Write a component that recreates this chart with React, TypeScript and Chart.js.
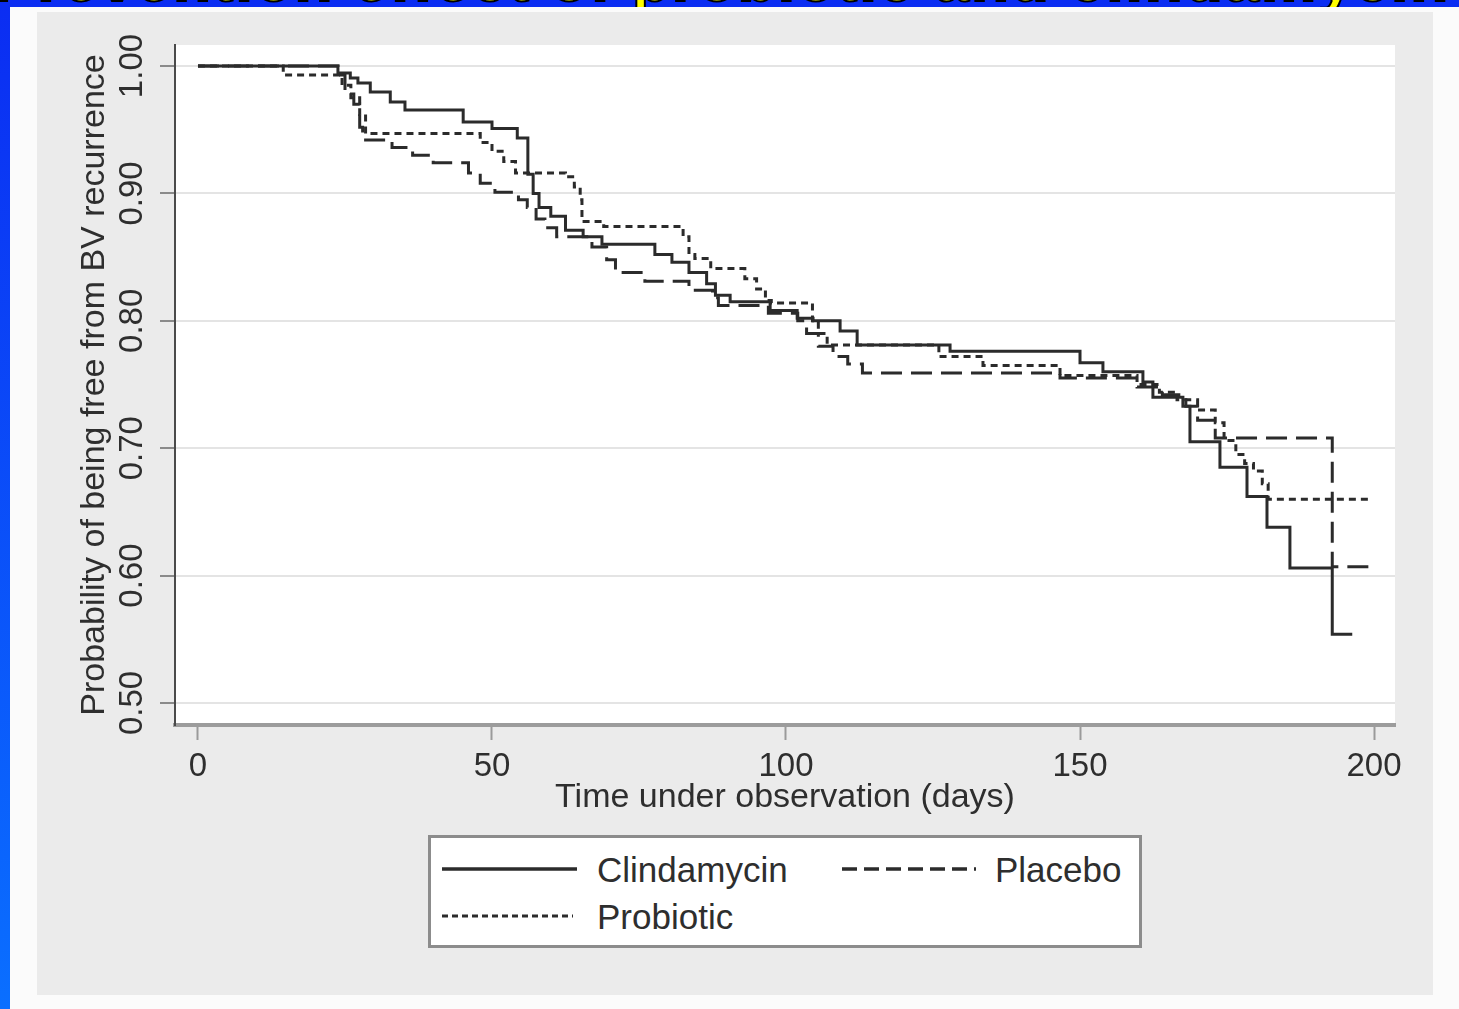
import React, { useEffect, useRef } from "react";
import { Chart, registerables } from "chart.js";

Chart.register(...registerables);

// ---- Data ----
const clindamycinDays = [0, 23.8, 25.9, 27.2, 29.3, 32.7, 35.2, 45.1, 50.0, 54.3, 56.1, 57.0, 58.0, 60.0, 62.5, 65.5, 68.7, 77.7, 80.6, 83.5, 86.5, 88.0, 90.5, 97.3, 101.9, 104.6, 109.2, 112.1, 127.9, 150.0, 153.9, 160.7, 162.4, 167.5, 168.7, 173.8, 178.4, 181.8, 185.7, 192.9, 196.3];
const clindamycinSurv = [1.0, 0.9945, 0.9906, 0.9867, 0.9796, 0.9718, 0.9655, 0.956, 0.951, 0.9435, 0.915, 0.9, 0.889, 0.882, 0.871, 0.866, 0.86, 0.852, 0.846, 0.838, 0.829, 0.82, 0.815, 0.808, 0.802, 0.8, 0.792, 0.781, 0.776, 0.767, 0.76, 0.752, 0.74, 0.733, 0.705, 0.685, 0.662, 0.638, 0.606, 0.554, 0.554];

const placeboDays = [0, 23.8, 25.0, 26.5, 27.5, 28.0, 33.0, 36.5, 40.0, 46.0, 48.0, 50.5, 54.5, 56.0, 57.5, 59.0, 61.0, 67.0, 69.5, 71.0, 76.0, 83.5, 87.5, 88.5, 97.0, 102.0, 103.5, 105.5, 108.0, 110.5, 113.0, 146.6, 159.7, 164.0, 168.0, 170.0, 173.0, 192.9, 199.3];
const placeboSurv = [1.0, 0.993, 0.978, 0.97, 0.952, 0.942, 0.936, 0.93, 0.924, 0.916, 0.908, 0.901, 0.895, 0.889, 0.88, 0.873, 0.866, 0.858, 0.848, 0.838, 0.831, 0.824, 0.818, 0.812, 0.806, 0.8, 0.79, 0.78, 0.772, 0.766, 0.759, 0.755, 0.748, 0.742, 0.733, 0.722, 0.708, 0.607, 0.607];

const probioticDays = [0, 14.5, 24.5, 26.0, 27.5, 28.5, 48.0, 50.0, 52.0, 54.0, 62.5, 64.0, 65.0, 65.3, 69.0, 82.5, 83.5, 84.5, 87.2, 93.0, 95.0, 96.5, 97.5, 104.5, 105.5, 107.0, 126.0, 133.5, 146.6, 159.7, 163.5, 166.5, 170.0, 173.0, 174.5, 176.5, 178.0, 179.5, 181.0, 182.0, 199.8];
const probioticSurv = [1.0, 0.993, 0.985, 0.975, 0.962, 0.947, 0.94, 0.933, 0.925, 0.916, 0.913, 0.905, 0.895, 0.878, 0.874, 0.866, 0.852, 0.849, 0.841, 0.833, 0.825, 0.816, 0.814, 0.8, 0.79, 0.781, 0.772, 0.765, 0.757, 0.75, 0.744, 0.738, 0.73, 0.72, 0.706, 0.695, 0.688, 0.682, 0.672, 0.66, 0.66];

const seriesNames = ["Clindamycin", "Placebo", "Probiotic"];
const xTicks = [0, 50, 100, 150, 200];
const yTicks = [0.5, 0.6, 0.7, 0.8, 0.9, 1.0];
const yTickLabels = ["0.50", "0.60", "0.70", "0.80", "0.90", "1.00"];
const xTitle = "Time under observation (days)";
const yTitle = "Probability of being free from BV recurrence";

const FONT = '"Liberation Sans", Arial, Helvetica, sans-serif';
const INK = "#2e2e2e";

function toPoints(days: number[], surv: number[]) {
  return days.map((d, i) => ({ x: d, y: surv[i] }));
}

export default function App() {
  const ref = useRef<HTMLCanvasElement>(null);

  useEffect(() => {
    const canvas = ref.current!;
    const plotBg = {
      id: "plotBg",
      beforeDraw(chart: any) {
        const { ctx, chartArea: a } = chart;
        ctx.save();
        ctx.fillStyle = "#ffffff";
        ctx.fillRect(a.left, a.top, a.right - a.left, a.bottom - a.top);
        ctx.restore();
      },
    };
    const yLabels = {
      id: "yLabels",
      afterDraw(chart: any) {
        const y = chart.scales.y;
        const ctx = chart.ctx;
        ctx.save();
        ctx.font = `33px ${FONT}`;
        ctx.fillStyle = INK;
        ctx.textAlign = "center";
        ctx.textBaseline = "middle";
        yTicks.forEach((v, i) => {
          const py = y.getPixelForValue(v);
          ctx.save();
          ctx.translate(96, py);
          ctx.rotate(-Math.PI / 2);
          ctx.fillText(yTickLabels[i], 0, 0);
          ctx.restore();
        });
        ctx.restore();
      },
    };

    const line = "#2b2b2b";
    const chart = new Chart(canvas, {
      type: "line",
      data: {
        datasets: [
          {
            label: seriesNames[0],
            data: toPoints(clindamycinDays, clindamycinSurv),
            stepped: "before",
            borderColor: line,
            borderWidth: 3,
            pointRadius: 0,
            fill: false,
          },
          {
            label: seriesNames[1],
            data: toPoints(placeboDays, placeboSurv),
            stepped: "before",
            borderColor: line,
            borderWidth: 3,
            borderDash: [21, 9],
            pointRadius: 0,
            fill: false,
          },
          {
            label: seriesNames[2],
            data: toPoints(probioticDays, probioticSurv),
            stepped: "before",
            borderColor: line,
            borderWidth: 3,
            borderDash: [7, 5],
            pointRadius: 0,
            fill: false,
          },
        ],
      },
      options: {
        animation: false,
        responsive: false,
        events: [],
        layout: { padding: { top: 33, right: 38, left: 0, bottom: 0 } },
        plugins: { legend: { display: false }, tooltip: { enabled: false } },
        scales: {
          x: {
            type: "linear",
            min: -3.91,
            max: 203.57,
            afterBuildTicks: (s: any) => {
              s.ticks = xTicks.map((v) => ({ value: v }));
            },
            afterFit: (s: any) => {
              s.height = 110;
            },
            ticks: {
              font: { family: FONT, size: 33 },
              color: INK,
              padding: 7,
              maxRotation: 0,
              minRotation: 0,
              autoSkip: false,
              callback: (v: any) => String(v),
            },
            grid: {
              drawOnChartArea: false,
              drawTicks: true,
              tickLength: 15,
              tickColor: "#9a9a9a",
              tickWidth: 2,
            },
            border: { display: true, color: "#9c9c9c", width: 4 },
            title: {
              display: true,
              text: xTitle,
              font: { family: FONT, size: 34 },
              color: INK,
              padding: { top: 0, bottom: 17 },
            },
          },
          y: {
            type: "linear",
            min: 0.4827,
            max: 1.0165,
            afterBuildTicks: (s: any) => {
              s.ticks = yTicks.map((v) => ({ value: v }));
            },
            afterFit: (s: any) => {
              s.width = 138;
            },
            ticks: { display: false },
            grid: {
              color: "#e4e4e4",
              lineWidth: 2,
              drawTicks: true,
              tickLength: 15,
              tickColor: "#8a8a8a",
              tickWidth: 2,
            },
            border: { display: true, color: "#4a4a4a", width: 2 },
            title: {
              display: true,
              text: yTitle,
              font: { family: FONT, size: 34 },
              color: INK,
              padding: { top: 37.6, bottom: 0 },
            },
          },
        },
      },
      plugins: [plotBg, yLabels],
    } as any);
    return () => chart.destroy();
  }, []);

  const txt: React.CSSProperties = {
    position: "absolute",
    fontFamily: FONT,
    fontSize: 35,
    lineHeight: "35px",
    color: INK,
    whiteSpace: "nowrap",
  };

  return (
    <div
      style={{
        position: "fixed",
        left: 0,
        top: 0,
        width: 1459,
        height: 1009,
        overflow: "hidden",
        background: "linear-gradient(to bottom, #0b2df2, #0a6fff)",
      }}
    >
      {/* slide title, only its bottom edge is visible */}
      <div style={{ position: "absolute", left: 0, top: 0, width: 1459, height: 7, overflow: "hidden" }}>
        <div
          style={{
            position: "absolute",
            left: -6,
            top: -51,
            fontFamily: FONT,
            fontWeight: "bold",
            fontSize: 62,
            lineHeight: "62px",
            color: "#ffff00",
            WebkitTextStroke: "2px #000",
            whiteSpace: "nowrap",
            letterSpacing: 2,
          }}
        >
          Prevention effect of probiotic and clindamycin treatment
        </div>
      </div>
      {/* white slide panel */}
      <div style={{ position: "absolute", left: 10, top: 7, right: 0, bottom: 0, background: "#fbfbfb" }} />
      {/* grey graph background */}
      <div style={{ position: "absolute", left: 37, top: 12, width: 1396, height: 983, background: "#ebebeb" }} />
      <canvas ref={ref} width={1396} height={823} style={{ position: "absolute", left: 37, top: 12 }} />
      {/* legend */}
      <svg style={{ position: "absolute", left: 428, top: 835 }} width={714} height={113}>
        <rect x={1.5} y={1.5} width={711} height={110} fill="#ffffff" stroke="#8c8c8c" strokeWidth={3} />
        <line x1={14} y1={34} x2={149} y2={34} stroke="#2b2b2b" strokeWidth={3.5} />
        <line x1={414} y1={34} x2={548} y2={34} stroke="#2b2b2b" strokeWidth={3.5} strokeDasharray="15 7" />
        <line x1={14} y1={81} x2={145} y2={81} stroke="#2b2b2b" strokeWidth={3} strokeDasharray="6 4" />
      </svg>
      <div style={{ ...txt, left: 597, top: 852 }}>{seriesNames[0]}</div>
      <div style={{ ...txt, left: 995, top: 852 }}>{seriesNames[1]}</div>
      <div style={{ ...txt, left: 597, top: 899 }}>{seriesNames[2]}</div>
    </div>
  );
}
